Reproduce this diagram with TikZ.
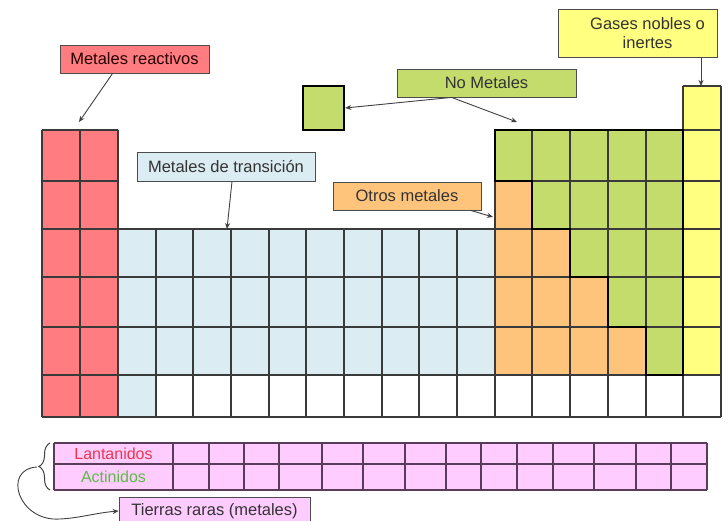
\documentclass[tikz,border=0pt]{standalone}
\usepackage{fontspec}
\setmainfont{Liberation Sans}
\usetikzlibrary{arrows.meta,decorations.pathreplacing}
\definecolor{cRed}{HTML}{FF7C80}
\definecolor{cBlue}{HTML}{DCECF3}
\definecolor{cOrange}{HTML}{FFC47C}
\definecolor{cGreen}{HTML}{C4DC6C}
\definecolor{cYellow}{HTML}{FFFF80}
\definecolor{cPink}{HTML}{FFCCFF}
\definecolor{cLine}{HTML}{3A3A3A}
\definecolor{cPLine}{HTML}{5A3C5A}
\definecolor{cLan}{HTML}{E8384F}
\definecolor{cAct}{HTML}{5DBB45}
\begin{document}
\begin{tikzpicture}[x=1pt,y=-1pt,
  grid/.style={draw=cLine,line width=1.1pt},
  pgrid/.style={draw=cPLine,line width=1.1pt},
  thickline/.style={draw=black,line width=2.4pt,line join=miter},
  lbl/.style={draw=black!70,line width=0.8pt,inner sep=0pt,text=black!80,
    font=\fontsize{16.5}{19}\selectfont},
  arr/.style={draw=black!75,line width=0.9pt,-{Stealth[length=6pt,width=5pt]}}]
\useasboundingbox (0,0) rectangle (728,521);
\clip (0,0) rectangle (728,521);
% fills
\fill[cRed] (42,130) rectangle (118,417);
\fill[cBlue] (118,229) rectangle (495,375);
\fill[cBlue] (118,375) rectangle (156,417);
\fill[cYellow] (683,86) rectangle (721,375);
\fill[cOrange] (495,181) -- (532,181) -- (532,229) -- (570,229) -- (570,277) -- (608,277) -- (608,327) -- (646,327) -- (646,375) -- (495,375) -- cycle;
\fill[cGreen] (495,130) -- (683,130) -- (683,375) -- (646,375) -- (646,327) -- (608,327) -- (608,277) -- (570,277) -- (570,229) -- (532,229) -- (532,181) -- (495,181) -- cycle;
% grid lines
\foreach \x in {42,80,118,495,532,570,608,646,683} \draw[grid] (\x,130) -- (\x,417);
\foreach \x in {156,193,231,269,306,344,382,419,457} \draw[grid] (\x,229) -- (\x,417);
\draw[grid] (683,86) -- (683,130);
\draw[grid] (721,86) -- (721,417);
\draw[grid] (683,86) -- (721,86);
\foreach \y in {130,181} {\draw[grid] (42,\y) -- (118,\y); \draw[grid] (495,\y) -- (721,\y);}
\foreach \y in {229,277,327,375,417} \draw[grid] (42,\y) -- (721,\y);
% non-metal outline
\draw[thickline] (495,130) -- (683,130) -- (683,375) -- (646,375) -- (646,327) -- (608,327) -- (608,277) -- (570,277) -- (570,229) -- (532,229) -- (532,181) -- (495,181) -- cycle;
% small green square
\node[draw=black,line width=2.4pt,fill=cGreen,minimum width=41pt,minimum height=44pt,inner sep=0pt] (sq) at (323.5,108) {};
% lanthanides / actinides
\fill[cPink] (54,443) rectangle (707,490);
\foreach \x in {54,173,209,244,279,322,363,405,446,481,517,553,594,636,671,707} \draw[pgrid] (\x,443) -- (\x,490);
\foreach \y in {443,464,490} \draw[pgrid] (54,\y) -- (707,\y);
\node[font=\fontsize{16}{18}\selectfont,text=cLan] (lan) at (113.5,454) {Lantanidos};
\node[font=\fontsize{16}{18}\selectfont,text=cAct] (act) at (113.5,477) {Actinidos};
\draw[black!75,line width=1pt,decorate,decoration={brace,amplitude=11pt}] (50,490) -- (50,443);
\coordinate (brt) at (37,467);
% labels
\node[lbl,fill=cRed,minimum width=149pt,minimum height=28pt,text=black!75!red!60!black] (mr) at (134.5,59) {Metales reactivos};
\node[lbl,fill=cBlue,minimum width=178pt,minimum height=29pt] (mt) at (226,166.5) {Metales de transición};
\node[lbl,fill=cOrange,minimum width=148pt,minimum height=28pt] (om) at (407,196) {Otros metales};
\node[lbl,fill=cGreen,minimum width=179pt,minimum height=28pt] (nm) at (486.5,83) {No Metales};
\node[lbl,fill=cYellow,minimum width=159pt,minimum height=48pt] (gn) at (637.5,33) {};
\node[lbl,draw=none,align=center] (gnt) at ([xshift=10pt]gn.center) {Gases nobles o\\inertes};
\node[lbl,fill=cPink,minimum width=191pt,minimum height=28pt] (tr) at (214.5,511) {Tierras raras (metales)};
% arrow targets
\coordinate (tRed) at (79,122);
\coordinate (tBlue) at (227,229);
\coordinate (tOr) at (493,217);
\coordinate (tGr) at (517,122);
\coordinate (tYe) at (701,86);
% arrows
\draw[arr] ([xshift=53pt]mr.south west) -- (tRed);
\draw[arr] ([xshift=6pt]mt.south) -- (tBlue);
\draw[arr] ([xshift=138pt]om.south west) -- (tOr);
\draw[arr] ([xshift=55pt]nm.south west) -- (tGr);
\draw[arr] ([xshift=55pt]nm.south west) -- (sq.east);
\draw[arr] ([xshift=63.5pt]gn.south) -- (tYe);
\draw[arr] (brt) .. controls (2,469) and (18,522) .. (60,519) .. controls (80,518) and (95,513) .. (tr.west);
\end{tikzpicture}
\end{document}
